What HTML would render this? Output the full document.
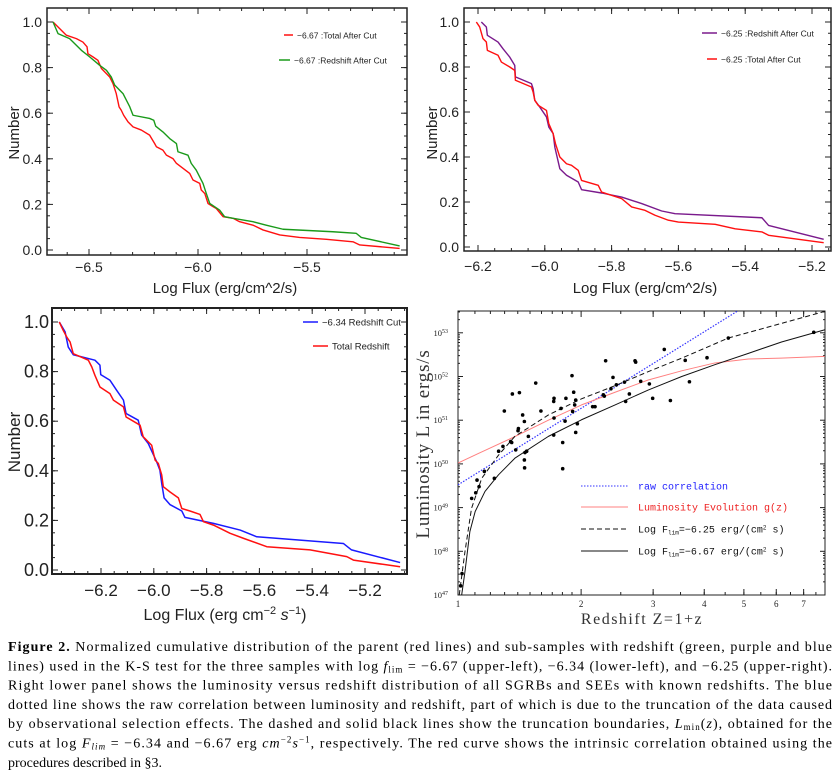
<!DOCTYPE html>
<html><head><meta charset="utf-8"><style>
html,body{margin:0;padding:0;background:#fff;}
svg{display:block;}
</style></head><body>
<svg id="fig" width="839" height="774" viewBox="0 0 839 774" xmlns="http://www.w3.org/2000/svg">
<g id="tl"></g>
<g id="tr"></g>
<g id="bl"></g>
<g id="br"></g>
<g id="cap" font-family="Liberation Serif, serif" font-size="14" fill="#000"></g>
</svg>
<script>
// ---------- DATA ----------
const tlRedX=[-6.665,-6.642,-6.619,-6.604,-6.558,-6.528,-6.509,-6.505,-6.482,-6.459,-6.443,-6.405,-6.390,-6.375,-6.362,-6.352,-6.341,-6.321,-6.298,-6.260,-6.222,-6.199,-6.191,-6.161,-6.145,-6.115,-6.099,-6.038,-6.023,-5.992,-5.985,-5.969,-5.954,-5.931,-5.916,-5.885,-5.839,-5.809,-5.748,-5.702,-5.625,-5.534,-5.411,-5.289,-5.258,-5.075];
const tlRedY=[1.000,0.978,0.956,0.942,0.927,0.912,0.891,0.861,0.847,0.832,0.796,0.759,0.730,0.686,0.628,0.613,0.591,0.562,0.540,0.526,0.504,0.467,0.453,0.438,0.416,0.401,0.380,0.336,0.307,0.292,0.263,0.248,0.204,0.190,0.182,0.146,0.139,0.124,0.109,0.088,0.066,0.055,0.047,0.036,0.022,0.007];
const tlGreenX=[-6.665,-6.642,-6.589,-6.535,-6.497,-6.451,-6.420,-6.398,-6.382,-6.344,-6.313,-6.298,-6.222,-6.203,-6.194,-6.161,-6.130,-6.099,-6.092,-6.046,-6.031,-6.008,-5.977,-5.962,-5.946,-5.901,-5.878,-5.839,-5.748,-5.687,-5.610,-5.381,-5.274,-5.251,-5.075];
const tlGreenY=[1.000,0.949,0.927,0.876,0.847,0.810,0.788,0.759,0.723,0.686,0.628,0.591,0.577,0.569,0.543,0.518,0.489,0.467,0.431,0.416,0.380,0.350,0.292,0.248,0.204,0.175,0.146,0.139,0.124,0.109,0.091,0.080,0.073,0.055,0.018];
const trPurpleX=[-6.190,-6.175,-6.172,-6.140,-6.125,-6.105,-6.090,-6.088,-6.040,-6.035,-6.030,-6.015,-5.995,-5.988,-5.975,-5.970,-5.955,-5.935,-5.900,-5.890,-5.830,-5.770,-5.710,-5.650,-5.610,-5.350,-5.330,-5.165];
const trPurpleY=[1.000,0.978,0.941,0.911,0.881,0.844,0.807,0.756,0.726,0.704,0.652,0.622,0.578,0.533,0.504,0.444,0.348,0.319,0.289,0.255,0.240,0.222,0.193,0.160,0.148,0.130,0.096,0.034];
const trRedX=[-6.205,-6.195,-6.185,-6.175,-6.172,-6.140,-6.130,-6.105,-6.090,-6.088,-6.040,-6.035,-6.030,-6.020,-5.995,-5.988,-5.975,-5.968,-5.955,-5.935,-5.920,-5.900,-5.890,-5.840,-5.830,-5.770,-5.740,-5.700,-5.670,-5.630,-5.600,-5.490,-5.430,-5.350,-5.330,-5.165];
const trRedY=[1.000,0.978,0.926,0.911,0.874,0.852,0.822,0.800,0.785,0.741,0.711,0.689,0.652,0.630,0.607,0.548,0.504,0.459,0.400,0.370,0.363,0.341,0.296,0.274,0.244,0.215,0.178,0.163,0.141,0.119,0.111,0.101,0.081,0.067,0.052,0.019];
const blBlueX=[-6.358,-6.336,-6.324,-6.305,-6.223,-6.204,-6.201,-6.166,-6.141,-6.115,-6.105,-6.059,-6.046,-6.021,-5.989,-5.977,-5.970,-5.961,-5.939,-5.894,-5.882,-5.774,-5.673,-5.610,-5.282,-5.251,-5.067];
const blBlueY=[1.000,0.960,0.899,0.868,0.846,0.826,0.788,0.765,0.725,0.685,0.631,0.604,0.544,0.510,0.436,0.403,0.349,0.291,0.264,0.238,0.212,0.188,0.161,0.134,0.107,0.081,0.030];
const blRedX=[-6.358,-6.343,-6.330,-6.317,-6.305,-6.248,-6.235,-6.223,-6.204,-6.166,-6.153,-6.115,-6.105,-6.052,-6.040,-6.008,-5.995,-5.983,-5.970,-5.964,-5.939,-5.907,-5.894,-5.863,-5.825,-5.812,-5.774,-5.711,-5.661,-5.572,-5.408,-5.269,-5.244,-5.067];
const blRedY=[1.000,0.966,0.940,0.919,0.872,0.846,0.819,0.785,0.738,0.711,0.685,0.658,0.617,0.584,0.537,0.503,0.443,0.430,0.383,0.336,0.315,0.291,0.248,0.238,0.224,0.195,0.181,0.148,0.128,0.094,0.081,0.054,0.040,0.013];
// lower-right: luminosity vs redshift
const brZ=[1.015,1.023,1.080,1.113,1.126,1.105,1.160,1.227,1.257,1.288,1.298,1.345,1.353,1.358,1.384,1.402,1.405,1.413,1.439,1.453,1.453,1.458,1.455,1.472,1.486,1.549,1.595,1.714,1.717,1.717,1.714,1.786,1.803,1.803,1.827,1.836,1.900,1.907,1.918,1.929,1.940,1.940,1.958,2.134,2.163,2.266,2.279,2.296,2.366,2.393,2.439,2.553,2.570,2.624,2.709,2.719,2.797,2.937,2.992,3.194,3.306,3.594,3.680,4.063,4.581,7.41];
const brLogL=[47.21,47.49,49.21,49.63,49.48,49.34,49.83,49.67,50.29,50.40,51.21,50.51,50.49,51.60,50.32,50.76,50.81,51.63,51.12,50.97,50.09,50.26,49.91,50.29,50.63,51.85,51.21,51.43,51.50,51.05,50.66,51.27,50.49,49.89,50.98,51.50,52.02,51.20,51.64,51.35,51.46,50.72,50.92,51.31,51.31,51.58,51.55,52.36,51.72,51.98,51.81,51.87,51.43,51.60,52.36,52.33,51.89,51.83,51.50,52.62,51.45,52.37,51.88,52.43,52.88,53.01];
const rawIntercept=49.52, rawSlope=5.82; // logL = a + b log10(Z)
const gLogZ=[0,0.05,0.131,0.221,0.302,0.384,0.465,0.547,0.628,0.71,0.79,0.897];
const gLogL=[50.02,50.24,50.59,51.0,51.35,51.64,51.92,52.13,52.31,52.40,52.42,52.46];
const dashLogZ=[0.003,0.017,0.033,0.058,0.099,0.139,0.221,0.302,0.384,0.465,0.547,0.661,0.897];
const dashLogL=[47.0,47.99,48.98,49.67,50.2,50.63,51.12,51.49,51.79,52.11,52.42,52.88,53.49];
const solidLogZ=[0.009,0.017,0.029,0.042,0.066,0.099,0.139,0.221,0.302,0.384,0.465,0.547,0.628,0.71,0.791,0.897];
const solidLogL=[47.0,47.53,48.45,48.91,49.37,49.75,50.13,50.63,51.01,51.35,51.69,52.0,52.27,52.53,52.79,53.07];
const kTicks=[-6.5,-6.0,-5.5];
const kTicks2=[-6.2,-6.0,-5.8,-5.6,-5.4,-5.2];
const nTicks=[0,0.2,0.4,0.6,0.8,1.0];
const zTicks=[1,2,3,4,5,6,7];
const lTicks=[47,48,49,50,51,52,53];

const NS='http://www.w3.org/2000/svg';
function mk(parent,tag,attrs){const e=document.createElementNS(NS,tag);for(const k in attrs)e.setAttribute(k,attrs[k]);parent.appendChild(e);return e;}
function fmt(v,d){return (v<0?'\u2212':'')+Math.abs(v).toFixed(d);}
function series(g,xs,ys,sx,sy,color,w,dash,name){
  const d=xs.map((x,i)=>(i?'L':'M')+sx(x).toFixed(2)+' '+sy(ys[i]).toFixed(2)).join('');
  const p=mk(g,'path',{d:d,fill:'none',stroke:color,'stroke-width':w,'stroke-linejoin':'round'});
  if(dash)p.setAttribute('stroke-dasharray',dash);
  
  
}
function frame(g,x0,x1,y0,y1,w){
  const r=mk(g,'rect',{x:x0,y:y0,width:x1-x0,height:y1-y0,fill:'none',stroke:'#222','stroke-width':w});
  
  
}
function ticksX(g,vals,sx,y0,y1,len){vals.forEach(v=>{const x=sx(v);mk(g,'line',{x1:x,x2:x,y1:y1,y2:y1-len,stroke:'#222','stroke-width':1});mk(g,'line',{x1:x,x2:x,y1:y0,y2:y0+len,stroke:'#222','stroke-width':1});});}
function ticksY(g,vals,sy,x0,x1,len){vals.forEach(v=>{const y=sy(v);mk(g,'line',{x1:x0,x2:x0+len,y1:y,y2:y,stroke:'#222','stroke-width':1});mk(g,'line',{x1:x1,x2:x1-len,y1:y,y2:y,stroke:'#222','stroke-width':1});});}
function txt(g,x,y,s,attrs,name){const t=mk(g,'text',Object.assign({x:x,y:y},attrs));t.textContent=s;
  
  
  return t;}
function range(a,b,s){const r=[];for(let v=a;v<=b+1e-9;v+=s)r.push(+v.toFixed(4));return r;}
function legendEntry(g,x1,x2,y,color,label,fs,name){
  const l=mk(g,'line',{x1:x1,x2:x2,y1:y,y2:y,stroke:color,'stroke-width':1.5});
  
  
  txt(g,x2+4,y+3.5,label,{'font-family':'Liberation Sans, sans-serif','font-size':fs,fill:'#222'},name);
}

// ---------- Upper-left ----------
(function(){
  const g=document.getElementById('tl');
  const x0=47,x1=407,y0=8,y1=255;
  const sx=v=>89+(v+6.5)*218, sy=n=>250-n*228;
  frame(g,x0,x1,y0,y1,1.5);
  ticksX(g,range(-6.6,-5.1,0.1),sx,y0,y1,3);ticksX(g,kTicks,sx,y0,y1,6);
  ticksY(g,range(0,1,0.05),sy,x0,x1,3);ticksY(g,nTicks,sy,x0,x1,6);
  kTicks.forEach(v=>txt(g,sx(v),272,fmt(v,1),{'font-family':'Liberation Sans, sans-serif','font-size':14,'text-anchor':'middle',fill:'#222'},'x-tick-label'));
  nTicks.forEach(v=>txt(g,42,sy(v)+5,v.toFixed(1),{'font-family':'Liberation Sans, sans-serif','font-size':14,'text-anchor':'end',fill:'#222'},'y-tick-label'));
  txt(g,225,293,'Log Flux (erg/cm^2/s)',{'font-family':'Liberation Sans, sans-serif','font-size':15,'text-anchor':'middle',fill:'#222'},'x-axis-title');
  txt(g,0,0,'Number',{'font-family':'Liberation Sans, sans-serif','font-size':15,'text-anchor':'middle',fill:'#222',transform:'translate(19,133) rotate(-90)'},'y-axis-title');
  series(g,tlRedX,tlRedY,sx,sy,'#ff1010',1.4,null,'total-after-cut-line');
  series(g,tlGreenX,tlGreenY,sx,sy,'#1a9a1a',1.4,null,'redshift-after-cut-line');
  legendEntry(g,284,293,35,'#ff1010','\u22126.67 :Total After Cut',8.5,'legend-entry-total');
  legendEntry(g,279,290,60,'#1a9a1a','\u22126.67 :Redshift After Cut',8.5,'legend-entry-redshift');
})();

// ---------- Upper-right ----------
(function(){
  const g=document.getElementById('tr');
  const x0=464,x1=831,y0=8,y1=251;
  const sx=v=>478+(v+6.2)*334, sy=n=>247-n*225;
  frame(g,x0,x1,y0,y1,1.5);
  ticksX(g,range(-6.2,-5.15,0.05),sx,y0,y1,3);ticksX(g,kTicks2,sx,y0,y1,6);
  ticksY(g,range(0,1,0.05),sy,x0,x1,3);ticksY(g,nTicks,sy,x0,x1,6);
  kTicks2.forEach(v=>txt(g,sx(v),271,fmt(v,1),{'font-family':'Liberation Sans, sans-serif','font-size':14,'text-anchor':'middle',fill:'#222'},'x-tick-label'));
  nTicks.forEach(v=>txt(g,459,sy(v)+5,v.toFixed(1),{'font-family':'Liberation Sans, sans-serif','font-size':14,'text-anchor':'end',fill:'#222'},'y-tick-label'));
  txt(g,645,293,'Log Flux (erg/cm^2/s)',{'font-family':'Liberation Sans, sans-serif','font-size':15,'text-anchor':'middle',fill:'#222'},'x-axis-title');
  txt(g,0,0,'Number',{'font-family':'Liberation Sans, sans-serif','font-size':15,'text-anchor':'middle',fill:'#222',transform:'translate(437,133) rotate(-90)'},'y-axis-title');
  series(g,trPurpleX,trPurpleY,sx,sy,'#7a1a8c',1.4,null,'redshift-after-cut-line');
  series(g,trRedX,trRedY,sx,sy,'#ff1010',1.4,null,'total-after-cut-line');
  legendEntry(g,702,717,33,'#7a1a8c','\u22126.25 :Redshift After Cut',8.5,'legend-entry-redshift');
  legendEntry(g,707,717,59,'#ff1010','\u22126.25 :Total After Cut',8.5,'legend-entry-total');
})();

// ---------- Lower-left ----------
(function(){
  const g=document.getElementById('bl');
  const x0=52,x1=407,y0=308,y1=574;
  const sx=v=>101+(v+6.2)*264, sy=n=>570-n*248;
  frame(g,x0,x1,y0,y1,2);
  ticksX(g,range(-6.35,-5.05,0.05),sx,y0,y1,3);ticksX(g,kTicks2,sx,y0,y1,6);
  ticksY(g,range(0,1,0.05),sy,x0,x1,3);ticksY(g,nTicks,sy,x0,x1,6);
  kTicks2.forEach(v=>txt(g,sx(v),596,fmt(v,1),{'font-family':'Liberation Sans, sans-serif','font-size':17,'text-anchor':'middle',fill:'#222'},'x-tick-label'));
  nTicks.forEach(v=>txt(g,49,sy(v)+6,v.toFixed(1),{'font-family':'Liberation Sans, sans-serif','font-size':18,'text-anchor':'end',fill:'#222'},'y-tick-label'));
  const t=txt(g,225,620,'',{'font-family':'Liberation Sans, sans-serif','font-size':16,'text-anchor':'middle',fill:'#222'},'x-axis-title');
  t.innerHTML='Log Flux (erg cm<tspan dy="-6" font-size="11">\u22122</tspan><tspan dy="6"> </tspan><tspan font-style="italic">s</tspan><tspan dy="-6" font-size="11">\u22121</tspan><tspan dy="6">)</tspan>';
  txt(g,0,0,'Number',{'font-family':'Liberation Sans, sans-serif','font-size':17,'text-anchor':'middle',fill:'#222',transform:'translate(20,442) rotate(-90)'},'y-axis-title');
  series(g,blBlueX,blBlueY,sx,sy,'#1a1aff',1.5,null,'redshift-cut-line');
  series(g,blRedX,blRedY,sx,sy,'#ff1010',1.5,null,'total-redshift-line');
  legendEntry(g,303,318,322,'#1a1aff','\u22126.34 Redshift Cut',9.5,'legend-entry-redshift-cut');
  legendEntry(g,313,328,346,'#ff1010','Total Redshift',9.5,'legend-entry-total-redshift');
})();

// ---------- Lower-right ----------
(function(){
  const g=document.getElementById('br');
  const x0=458,x1=825,y0=311,y1=595;
  const sxl=lz=>458+lz*409, sx=z=>sxl(Math.log10(z)), sy=l=>595-(l-47)*43.7;
  const clip=mk(g,'clipPath',{id:'brclip'});mk(clip,'rect',{x:x0,y:y0,width:x1-x0,height:y1-y0});
  frame(g,x0,x1,y0,y1,1);
  const minorZ=range(1.1,1.9,0.1).concat(range(2.5,7.5,0.5));
  ticksX(g,minorZ,sx,y0,y1,3);ticksX(g,zTicks,sx,y0,y1,6);
  const minorL=[];lTicks.forEach(l=>{for(let k=2;k<10;k++){const v=l+Math.log10(k);if(v<53.5)minorL.push(v);}});
  ticksY(g,minorL,sy,x0,x1,2);ticksY(g,lTicks,sy,x0,x1,5);
  zTicks.forEach(z=>txt(g,sx(z),607,String(z),{'font-family':'Liberation Serif, serif','font-size':9,'text-anchor':'middle',fill:'#222'},'x-tick-label'));
  lTicks.forEach(l=>{const t=txt(g,448,sy(l)+3,'',{'font-family':'Liberation Serif, serif','font-size':8.5,'text-anchor':'end',fill:'#222'},'y-tick-label');t.innerHTML='10<tspan dy="-3" font-size="6">'+l+'</tspan>';});
  txt(g,642,624,'Redshift Z=1+z',{'font-family':'Liberation Serif, serif','font-size':16,'text-anchor':'middle','letter-spacing':'1.5',fill:'#333'},'x-axis-title');
  txt(g,0,0,'Luminosity L  in ergs/s',{'font-family':'Liberation Serif, serif','font-size':19,'text-anchor':'middle','letter-spacing':'0.8',fill:'#333',transform:'translate(429,444) rotate(-90)'},'y-axis-title');
  const cg=mk(g,'g',{'clip-path':'url(#brclip)'});
  const rawZ=[0,0.9];
  series(cg,rawZ,rawZ.map(lz=>rawIntercept+rawSlope*lz),sxl,sy,'#3333ff',1.2,'1.5 1.5','raw-correlation-line');
  series(cg,gLogZ,gLogL,sxl,sy,'#ff8080',1,null,'luminosity-evolution-line');
  series(cg,dashLogZ,dashLogL,sxl,sy,'#111',1,'5 3','flim-625-line');
  series(cg,solidLogZ,solidLogL,sxl,sy,'#111',1,null,'flim-667-line');
  brZ.forEach((z,i)=>{const c=mk(cg,'circle',{cx:sx(z).toFixed(2),cy:sy(brLogL[i]).toFixed(2),r:1.8,fill:'#000'});
    
    });
  const lf={'font-family':'Liberation Mono, monospace','font-size':10};
  const items=[[486,'#3333ff','1.5 1.5','raw correlation','#2222ff'],[507,'#ff8080',null,'Luminosity Evolution g(z)','#ee2222'],[529,'#111','5 3','Log F<tspan dy="2" font-size="6">lim</tspan><tspan dy="-2">=\u22126.25 erg/(cm</tspan><tspan dy="-3" font-size="6">2</tspan><tspan dy="3"> s)</tspan>','#111'],[551,'#111',null,'Log F<tspan dy="2" font-size="6">lim</tspan><tspan dy="-2">=\u22126.67 erg/(cm</tspan><tspan dy="-3" font-size="6">2</tspan><tspan dy="3"> s)</tspan>','#111']];
  items.forEach((it,i)=>{const l=mk(g,'line',{x1:581,x2:628,y1:it[0],y2:it[0],stroke:it[1],'stroke-width':1});if(it[2])l.setAttribute('stroke-dasharray',it[2]);
    
    
    const t=txt(g,638,it[0]+3.5,'',Object.assign({fill:it[4]},lf),'legend-entry');t.innerHTML=it[3];});
})();

// ---------- Caption ----------
(function(){
  const g=document.getElementById('cap');
  const lines=[
   '<tspan font-weight="bold">Figure 2.</tspan> Normalized cumulative distribution of the parent (red lines) and sub-samples with redshift (green, purple and blue',
   'lines) used in the K-S test for the three samples with log <tspan font-style="italic">f</tspan><tspan font-size="9" dy="2">lim</tspan><tspan dy="-2"> = \u22126.67 (upper-left), \u22126.34 (lower-left), and \u22126.25 (upper-right).</tspan>',
   'Right lower panel shows the luminosity versus redshift distribution of all SGRBs and SEEs with known redshifts.  The blue',
   'dotted line shows the raw correlation between luminosity and redshift, part of which is due to the truncation of the data caused',
   'by observational selection effects. The dashed and solid black lines show the truncation boundaries, <tspan font-style="italic">L</tspan><tspan font-size="9" dy="2">min</tspan><tspan dy="-2">(</tspan><tspan font-style="italic">z</tspan>), obtained for the',
   'cuts at log <tspan font-style="italic">F</tspan><tspan font-size="9" dy="2" font-style="italic">lim</tspan><tspan dy="-2"> = \u22126.34 and \u22126.67 erg </tspan><tspan font-style="italic">cm</tspan><tspan font-size="9" dy="-5">\u22122</tspan><tspan dy="5" font-style="italic">s</tspan><tspan font-size="9" dy="-5">\u22121</tspan><tspan dy="5">, respectively.  The red curve shows the intrinsic correlation obtained using the</tspan>',
   'procedures described in \u00a73.'];
  lines.forEach((s,i)=>{const t=mk(g,'text',{x:8,y:651+i*19.3});
    if(i<6){t.setAttribute('textLength','824');t.setAttribute('lengthAdjust','spacing');}
    
    
    t.innerHTML=s;});
})();
</script>
</body></html>
